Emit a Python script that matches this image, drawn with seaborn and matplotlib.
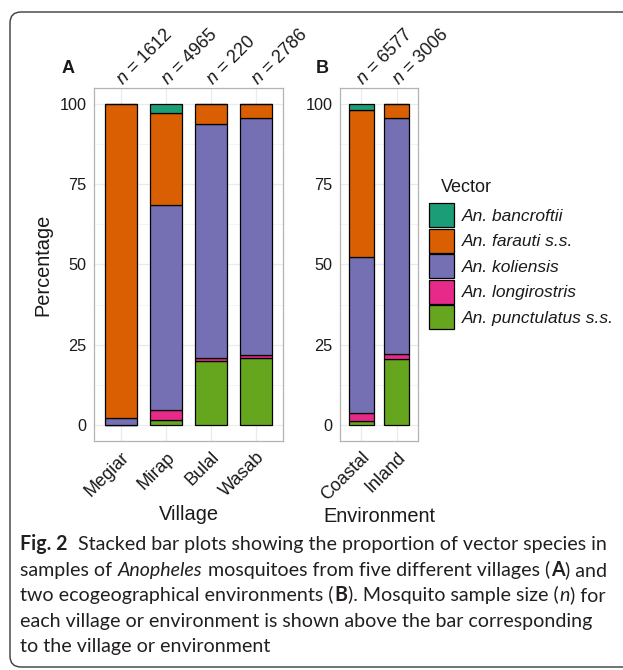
import numpy as np
import pandas as pd
import matplotlib
matplotlib.use("Agg")
import matplotlib.pyplot as plt
from matplotlib.patches import Patch, PathPatch
from matplotlib.path import Path
from matplotlib.transforms import Affine2D
from matplotlib.ticker import MultipleLocator
from matplotlib.font_manager import FontProperties
import seaborn as sns

# ---------------------------------------------------------------- data
villages = ["Megiar", "Mirap", "Bulal", "Wasab"]
village_n = [1612, 4965, 220, 2786]
environments = ["Coastal", "Inland"]
environment_n = [6577, 3006]

vectors = ["An. bancroftii", "An. farauti s.s.", "An. koliensis",
           "An. longirostris", "An. punctulatus s.s."]
vector_colors = ["#1B9E77", "#D95F02", "#7570B3", "#E7298A", "#66A61E"]

# percentage of each vector species per village
village_bancroftii = [0.0, 2.7, 0.0, 0.0]
village_farauti = [97.7, 28.8, 6.2, 4.3]
village_koliensis = [2.3, 63.8, 72.9, 73.9]
village_longirostris = [0.0, 3.3, 1.0, 1.0]
village_punctulatus = [0.0, 1.4, 19.9, 20.8]

# percentage of each vector species per environment
env_bancroftii = [2.0, 0.0]
env_farauti = [45.7, 4.3]
env_koliensis = [48.7, 73.7]
env_longirostris = [2.4, 1.3]
env_punctulatus = [1.2, 20.7]

y_ticks = [0, 25, 50, 75, 100]


def long_table(groups, group_name, columns):
    rows = []
    for vec, vals in zip(vectors, columns):
        for g, v in zip(groups, vals):
            if v > 0:
                rows.append({group_name: g, "Vector": vec, "Percentage": v})
    df = pd.DataFrame(rows)
    df[group_name] = pd.Categorical(df[group_name], categories=groups, ordered=True)
    return df


df_village = long_table(villages, "Village",
                        [village_bancroftii, village_farauti, village_koliensis,
                         village_longirostris, village_punctulatus])
df_env = long_table(environments, "Environment",
                    [env_bancroftii, env_farauti, env_koliensis,
                     env_longirostris, env_punctulatus])

# ---------------------------------------------------------------- style
sns.set_theme(style="white")
plt.rcParams["font.family"] = ["Liberation Sans", "DejaVu Sans"]
plt.rcParams["mathtext.fontset"] = "custom"
plt.rcParams["mathtext.it"] = "Liberation Sans:italic"
plt.rcParams["mathtext.rm"] = "Liberation Sans"

W, H = 623, 670
fig = plt.figure(figsize=(W / 100, H / 100), dpi=100)
fig.patch.set_facecolor("white")

# figure-pixel coordinates, measured from the top-left corner
PX = Affine2D().scale(1 / W, -1 / H).translate(0, 1) + fig.transFigure

TEXT = "#1a1a1a"
BORDER = "#b3b3b3"
TICK = "#8c8c8c"
GRID = "#ebebeb"


def px_axes(left, right, top, bottom):
    return fig.add_axes([left / W, 1 - bottom / H, (right - left) / W, (bottom - top) / H])


ax_a = px_axes(94, 283, 88, 441)
ax_b = px_axes(340, 418, 88, 441)

palette = dict(zip(vectors, vector_colors))


def stacked_panel(ax, df, group_name, groups, counts, xlabel_pad):
    sns.histplot(data=df, x=group_name, hue="Vector", weights="Percentage",
                 multiple="stack", discrete=True, shrink=0.7,
                 hue_order=vectors, palette=palette, alpha=1,
                 edgecolor="black", linewidth=0.9, legend=False, ax=ax)
    ax.set_xlim(-0.6, len(groups) - 0.4)
    ax.set_ylim(-5, 105)
    ax.set_yticks(y_ticks)
    ax.set_yticklabels([str(t) for t in y_ticks])
    ax.yaxis.set_minor_locator(MultipleLocator(12.5))
    ax.set_xticks(range(len(groups)))
    ax.set_xticklabels(groups, rotation=45, ha="right", va="top",
                       rotation_mode="anchor", fontsize=13, color=TEXT)
    ax.set_axisbelow(True)
    ax.grid(which="major", color=GRID, linewidth=0.9)
    ax.grid(which="minor", axis="y", color="#f2f2f2", linewidth=0.6)
    for sp in ax.spines.values():
        sp.set_color(BORDER)
        sp.set_linewidth(0.9)
    ax.tick_params(axis="both", which="major", length=3.5, width=0.8,
                   color=TICK, pad=2, labelcolor=TEXT)
    ax.tick_params(axis="y", labelsize=11.7)
    ax.tick_params(which="minor", length=0)
    ax.set_xlabel(group_name, fontsize=14.4, color=TEXT, labelpad=xlabel_pad)
    ax.set_ylabel("")
    for i, n in enumerate(counts):
        ax.annotate(f"$n$ = {n}", xy=(i, 1), xycoords=("data", "axes fraction"),
                    xytext=(1.2, 1.8), textcoords="offset points",
                    rotation=45, rotation_mode="anchor", ha="left", va="baseline",
                    fontsize=13, color=TEXT, annotation_clip=False)


stacked_panel(ax_a, df_village, "Village", villages, village_n, 4)
stacked_panel(ax_b, df_env, "Environment", environments, environment_n, 2.5)
ax_a.set_ylabel("Percentage", fontsize=14.4, color=TEXT, labelpad=5)

# panel tags
fig.text(62, 73, "A", transform=PX, fontsize=13, fontweight="bold", color=TEXT)
fig.text(316, 73, "B", transform=PX, fontsize=13, fontweight="bold", color=TEXT)

# legend: title drawn on its own, keys and labels through fig.legend
fig.text(441, 192, "Vector", transform=PX, fontsize=13, color=TEXT)
handles = [Patch(facecolor=c, edgecolor="black", linewidth=0.9) for c in vector_colors]
leg_size = 12.5
leg_px = leg_size * 100 / 72
key_h = 24 / leg_px
handle_height = (key_h - 0.245) / 0.65
leg = fig.legend(handles, vectors, loc="upper left",
                 bbox_to_anchor=(429, 203), bbox_transform=PX,
                 frameon=False,
                 prop=FontProperties(family="Liberation Sans", style="italic", size=leg_size),
                 handlelength=25 / leg_px, handleheight=handle_height,
                 handletextpad=0.45, labelspacing=1.5 / leg_px,
                 borderpad=0, borderaxespad=0)
for t in leg.get_texts():
    t.set_color(TEXT)

# ---------------------------------------------------------------- caption
CAP_FONT = ["Lato", "DejaVu Sans"]
CAP_COLOR = "#231f20"
N, B, I = ("normal", "normal"), ("bold", "normal"), ("normal", "italic")

caption_lines = [
    [("Fig. 2", B), 2, ("Stacked bar plots showing the proportion of vector species in", N)],
    [("samples of", N), 1, ("Anopheles", I), 1, ("mosquitoes from five different villages (", N),
     ("A", B), (") and", N)],
    [("two ecogeographical environments (", N), ("B", B), ("). Mosquito sample size (", N),
     ("n", I), (") for", N)],
    [("each village or environment is shown above the bar corresponding", N)],
    [("to the village or environment", N)],
]
caption_baselines = [550, 576, 601, 627, 652]

renderer = fig.canvas.get_renderer()


def text_width(s, size, weight="normal", style="normal"):
    t = fig.text(0, 0, s, fontsize=size, fontweight=weight, fontstyle=style, family=CAP_FONT)
    w = t.get_window_extent(renderer).width
    t.remove()
    return w


def draw_line(segments, x0, y, size, draw=True):
    space = text_width("a a", size) - text_width("aa", size)
    x = x0
    for seg in segments:
        if isinstance(seg, int):
            x += seg * space
            continue
        s, (weight, style) = seg
        if draw:
            fig.text(x, y, s, transform=PX, fontsize=size, fontweight=weight,
                     fontstyle=style, family=CAP_FONT, color=CAP_COLOR,
                     ha="left", va="baseline")
        x += text_width(s, size, weight, style) + 0.6
    return x - x0


base_size = 12.0
line1_width = draw_line(caption_lines[0], 0, 0, base_size, draw=False)
cap_size = base_size * 586 / line1_width
for segs, yb in zip(caption_lines, caption_baselines):
    draw_line(segs, 20, yb, cap_size)

# rounded frame, open on the right-hand side
left, top, bottom, right, r = 10, 12, 667, 660, 11
frame_path = Path(
    [(right, top), (left + r, top), (left, top), (left, top + r),
     (left, bottom - r), (left, bottom), (left + r, bottom), (right, bottom)],
    [Path.MOVETO, Path.LINETO, Path.CURVE3, Path.CURVE3,
     Path.LINETO, Path.CURVE3, Path.CURVE3, Path.LINETO])
fig.add_artist(PathPatch(frame_path, transform=PX, fill=False,
                         edgecolor="#3a3a3a", linewidth=1.0, clip_on=False))

fig.savefig("out.png", dpi=100, facecolor="white")
